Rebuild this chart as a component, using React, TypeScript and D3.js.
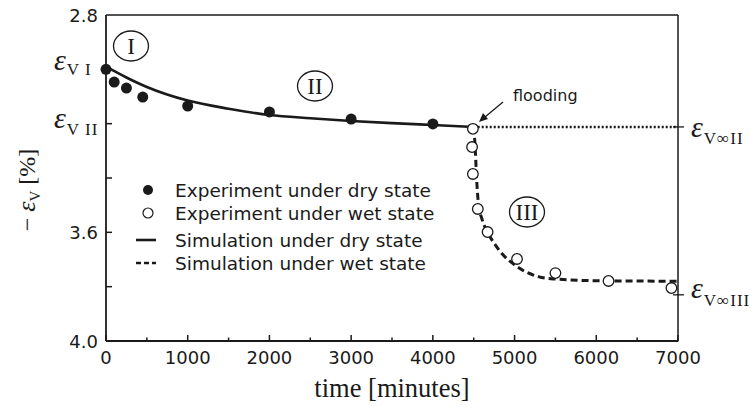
import React from 'react';
import * as d3 from 'd3';

// ---- data ----
const dryTime = [0, 100, 250, 450, 1000, 2000, 3000, 4000];
const dryStrain = [3.0, 3.047, 3.069, 3.102, 3.135, 3.157, 3.183, 3.201];
const wetTime = [4490, 4480, 4490, 4550, 4670, 5030, 5500, 6150, 6920];
const wetStrain = [3.219, 3.286, 3.385, 3.514, 3.599, 3.698, 3.75, 3.779, 3.805];
const simDryTime = [0, 250, 500, 1000, 1500, 2000, 2500, 3000, 3500, 4000, 4500];
const simDryStrain = [2.99, 3.03, 3.065, 3.115, 3.145, 3.168, 3.18, 3.19, 3.198, 3.205, 3.212];
const simWetTime = [4500, 4510, 4520, 4535, 4560, 4600, 4670, 4750, 4850, 5000, 5300, 5500, 6000, 7000];
const simWetStrain = [3.212, 3.25, 3.3, 3.4, 3.5, 3.55, 3.6, 3.64, 3.68, 3.72, 3.764, 3.772, 3.778, 3.78];
const floodTime = 4500;
const epsInfII = 3.212;
const epsInfIII = 3.83;
const epsI = 2.99;
const epsII = 3.2;
const xTicks = [0, 1000, 2000, 3000, 4000, 5000, 6000, 7000];
const xMinorTicks = [500, 1500, 2500, 3500, 4500, 5500, 6500];
const yTickLabels = [2.8, 3.6, 4.0];
const yTicks = [3.0, 3.2, 3.4, 3.6, 3.8];
const legendLabels = [
  'Experiment under dry state',
  'Experiment under wet state',
  'Simulation under dry state',
  'Simulation under wet state',
];

const W = 753;
const H = 407;
const L = 106, R = 678, T = 15, B = 341;

const sans = '"DejaVu Sans", sans-serif';
const serif = '"Liberation Serif", "Times New Roman", serif';
const ink = '#1a1a1a';

export default function App() {
  const x = d3.scaleLinear().domain([0, 7000]).range([L, R]);
  const y = d3.scaleLinear().domain([2.8, 4.0]).range([T, B]);

  const line = d3
    .line<[number, number]>()
    .x((d) => x(d[0]))
    .y((d) => y(d[1]))
    .curve(d3.curveMonotoneX);

  const dryPath = line(simDryTime.map((t, i) => [t, simDryStrain[i]]) as [number, number][]) || '';
  const wetPath = line(simWetTime.map((t, i) => [t, simWetStrain[i]]) as [number, number][]) || '';

  const yInfII = y(epsInfII);
  const yInfIII = y(epsInfIII);

  const legendY = [190, 213, 240, 263];

  const EpsLabel = ({ px, py, sub, dy }: { px: number; py: number; sub: string; dy: number }) => (
    <text x={px} y={py} fontFamily={serif} fill={ink}>
      <tspan fontSize={30} fontStyle="italic">ε</tspan>
      <tspan fontSize={17} dy={dy} dx={1} letterSpacing={1}>{sub}</tspan>
    </text>
  );

  return (
    <svg width={W} height={H} style={{ position: 'absolute', left: 0, top: 0, background: '#fff' }}>
      <rect x={0} y={0} width={W} height={H} fill="#fff" />

      {/* frame */}
      <line x1={L} y1={T} x2={R} y2={T} stroke={ink} strokeWidth={1.5} />
      <line x1={L} y1={T} x2={L} y2={B} stroke={ink} strokeWidth={1.8} />
      <line x1={L} y1={B} x2={R} y2={B} stroke={ink} strokeWidth={1.8} />
      <line x1={R} y1={T} x2={R} y2={B + 0.5} stroke={ink} strokeWidth={1.5} />

      {/* x ticks */}
      {xTicks.map((t) => (
        <g key={'xt' + t}>
          <line x1={x(t)} x2={x(t)} y1={B} y2={B - 6} stroke={ink} strokeWidth={1.5} />
          <text x={x(t)} y={364} textAnchor="middle" fontFamily={sans} fontSize={18} fill={ink}>
            {t}
          </text>
        </g>
      ))}
      {xMinorTicks.map((t) => (
        <line key={'xm' + t} x1={x(t)} x2={x(t)} y1={B} y2={B - 3.5} stroke={ink} strokeWidth={1.5} />
      ))}

      {/* y ticks */}
      {yTicks.map((v) => (
        <line key={'yt' + v} x1={L} x2={L + 6} y1={y(v)} y2={y(v)} stroke={ink} strokeWidth={1.5} />
      ))}
      {yTickLabels.map((v) => (
        <text key={'yl' + v} x={98} y={y(v) + 7} textAnchor="end" fontFamily={sans} fontSize={18} fill={ink}>
          {v.toFixed(1)}
        </text>
      ))}

      {/* right axis ticks */}
      <line x1={R - 5} x2={R + 6} y1={yInfII} y2={yInfII} stroke={ink} strokeWidth={1.3} />
      <line x1={R - 5} x2={R + 6} y1={yInfIII} y2={yInfIII} stroke={ink} strokeWidth={1.3} />

      {/* epsilon labels */}
      <EpsLabel px={54} py={y(epsI) + 3} sub="V I" dy={5} />
      <EpsLabel px={54} py={y(epsII) + 4} sub="V II" dy={7} />
      <EpsLabel px={691} py={yInfII + 10} sub="V∞II" dy={7} />
      <EpsLabel px={691} py={yInfIII + 3} sub="V∞III" dy={8} />

      {/* axis titles */}
      <text x={392} y={397} textAnchor="middle" fontFamily={serif} fontSize={26.5} fill={ink}>
        time [minutes]
      </text>
      <text
        transform="translate(35,190) rotate(-90)"
        textAnchor="middle"
        fontFamily={serif}
        fontSize={24}
        fill={ink}
      >
        <tspan>− </tspan>
        <tspan fontStyle="italic" fontSize={26}>ε</tspan>
        <tspan fontSize={15} dy={5}>V</tspan>
        <tspan dy={-5}> [%]</tspan>
      </text>

      {/* simulation curves */}
      <path d={dryPath} fill="none" stroke={ink} strokeWidth={2.6} />
      <line
        x1={x(floodTime)}
        x2={R}
        y1={yInfII}
        y2={yInfII}
        stroke={ink}
        strokeWidth={2.6}
        strokeDasharray="2 2"
      />
      <path d={wetPath} fill="none" stroke={ink} strokeWidth={3} strokeDasharray="7 4" />

      {/* experiments */}
      {dryTime.map((t, i) => (
        <circle key={'d' + i} cx={x(t)} cy={y(dryStrain[i])} r={5.5} fill={ink} />
      ))}
      {wetTime.map((t, i) => (
        <circle key={'w' + i} cx={x(t)} cy={y(wetStrain[i])} r={5.3} fill="#fff" stroke={ink} strokeWidth={1.3} />
      ))}

      {/* region labels */}
      {[
        { cx: 131, cy: 46, t: 'I' },
        { cx: 315, cy: 86, t: 'II' },
        { cx: 527, cy: 212, t: 'III' },
      ].map((c) => (
        <g key={c.t}>
          <ellipse cx={c.cx} cy={c.cy} rx={17.5} ry={15} fill="none" stroke={ink} strokeWidth={1.3} />
          <text x={c.cx} y={c.cy + 8} textAnchor="middle" fontFamily={serif} fontSize={23} fill={ink}>
            {c.t}
          </text>
        </g>
      ))}

      {/* flooding annotation */}
      <text x={513} y={101} fontFamily={sans} fontSize={16} fill={ink}>
        flooding
      </text>
      <line x1={503} y1={102} x2={485} y2={117} stroke={ink} strokeWidth={1.3} />
      <path d="M 479 122 L 483 113 L 488 119 Z" fill={ink} />

      {/* legend */}
      <circle cx={148} cy={legendY[0]} r={5} fill={ink} />
      <circle cx={148} cy={legendY[1]} r={5} fill="#fff" stroke={ink} strokeWidth={1.2} />
      <line x1={136} x2={156} y1={legendY[2]} y2={legendY[2]} stroke={ink} strokeWidth={2.6} />
      <line x1={136} x2={156} y1={legendY[3]} y2={legendY[3]} stroke={ink} strokeWidth={2.6} strokeDasharray="5 3" />
      {legendLabels.map((s, i) => (
        <text key={s} x={175} y={legendY[i] + 7} fontFamily={sans} fontSize={18.5} fill={ink}>
          {s}
        </text>
      ))}
    </svg>
  );
}
